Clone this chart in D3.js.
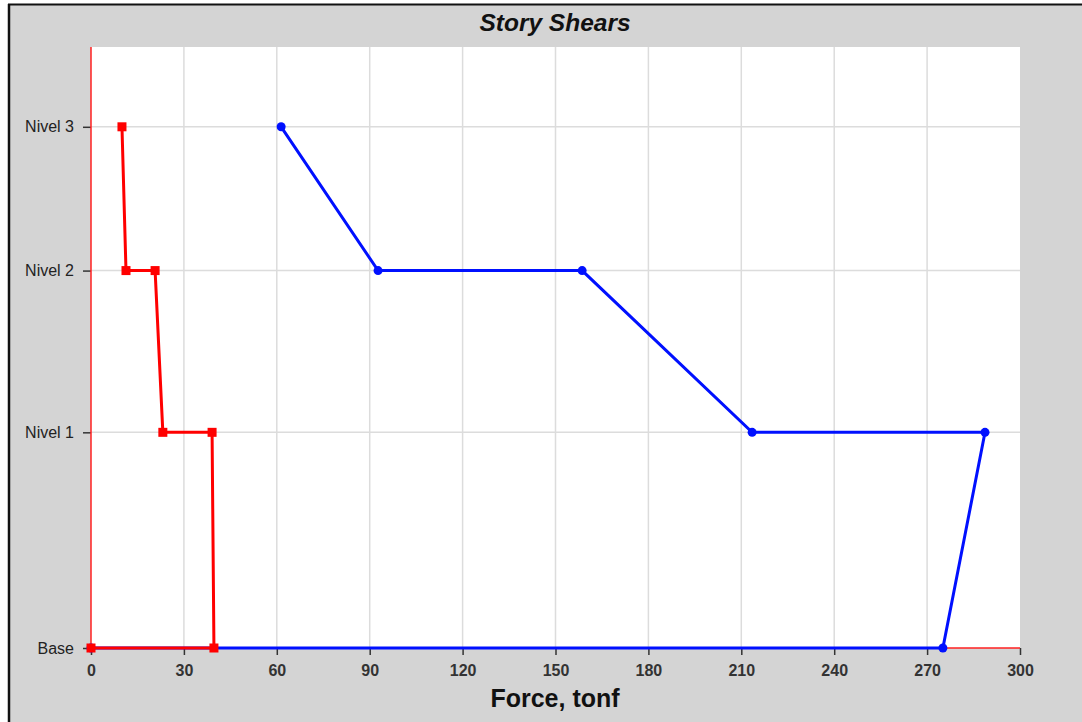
<!DOCTYPE html>
<html>
<head>
<meta charset="utf-8">
<script src="https://cdn.jsdelivr.net/npm/d3@7"></script>
<style>
  html, body { margin: 0; padding: 0; background: #ffffff; }
  svg { display: block; }
</style>
</head>
<body>
<script>
// Story levels and their elevations (m)
const stories = ["Base", "Nivel 1", "Nivel 2", "Nivel 3"];
const elevations = [0, 3.0, 5.25, 7.25];
const elevationMax = 8.36;

// Force axis
const forceTicks = [0, 30, 60, 90, 120, 150, 180, 210, 240, 270, 300];

// Story shear traces: [force, story] pairs (top/bottom of each story)
const shearX = [
  [0, "Base"], [275.1, "Base"], [288.7, "Nivel 1"], [213.5, "Nivel 1"],
  [158.6, "Nivel 2"], [92.7, "Nivel 2"], [61.4, "Nivel 3"]
];
const shearY = [
  [0, "Base"], [39.7, "Base"], [39.1, "Nivel 1"], [23.2, "Nivel 1"],
  [20.7, "Nivel 2"], [11.3, "Nivel 2"], [10.0, "Nivel 3"]
];

const W = 1082, H = 722;
const plot = { left: 91, right: 1020, top: 47, bottom: 648 };
const FONT = "Arial, 'Liberation Sans', sans-serif";

const svg = d3.select("body").append("svg")
  .attr("width", W).attr("height", H);

// Window frame
svg.append("rect").attr("x", 9).attr("y", 4).attr("width", W - 9).attr("height", H - 4)
  .attr("fill", "#d4d4d4");
svg.append("line").attr("x1", 9).attr("x2", 9).attr("y1", 4).attr("y2", H)
  .attr("stroke", "#111").attr("stroke-width", 2.5);
svg.append("line").attr("x1", 8).attr("x2", W).attr("y1", 4.5).attr("y2", 4.5)
  .attr("stroke", "#111").attr("stroke-width", 2);

// Plot area
svg.append("rect")
  .attr("x", plot.left).attr("y", plot.top)
  .attr("width", plot.right - plot.left).attr("height", plot.bottom - plot.top)
  .attr("fill", "#ffffff");

const x = d3.scaleLinear().domain([0, 300]).range([plot.left, plot.right]);
const y = d3.scaleLinear().domain([0, elevationMax]).range([plot.bottom, plot.top]);
const elev = Object.fromEntries(stories.map((s, i) => [s, elevations[i]]));

// Grid
const grid = svg.append("g").attr("stroke", "#dcdcdc").attr("stroke-width", 1.5);
grid.selectAll(".vg").data(forceTicks.slice(1, -1)).join("line")
  .attr("x1", d => x(d)).attr("x2", d => x(d))
  .attr("y1", plot.top).attr("y2", plot.bottom);
grid.selectAll(".hg").data(elevations.slice(1)).join("line")
  .attr("x1", plot.left).attr("x2", plot.right)
  .attr("y1", d => y(d)).attr("y2", d => y(d));

// X axis
const xAxis = svg.append("g")
  .attr("transform", `translate(0,${plot.bottom})`)
  .call(d3.axisBottom(x).tickValues(forceTicks).tickSize(7).tickPadding(10));
xAxis.select(".domain").remove();
xAxis.selectAll(".tick line").attr("stroke", "#333").attr("stroke-width", 1.5);
xAxis.selectAll(".tick text")
  .attr("fill", "#333").attr("font-family", FONT)
  .attr("font-size", 16).attr("font-weight", "bold");

// Y axis
const yAxis = svg.append("g")
  .attr("transform", `translate(${plot.left},0)`)
  .call(d3.axisLeft(y).tickValues(elevations).tickFormat((d, i) => stories[i])
    .tickSize(8).tickPadding(9));
yAxis.select(".domain").remove();
yAxis.selectAll(".tick line").attr("stroke", "#333").attr("stroke-width", 1.5);
yAxis.selectAll(".tick text")
  .attr("fill", "#222").attr("font-family", FONT)
  .attr("font-size", 16);

// Axis lines (red)
svg.append("line").attr("x1", x(0)).attr("x2", x(0))
  .attr("y1", plot.top).attr("y2", plot.bottom)
  .attr("stroke", "#ff2020").attr("stroke-width", 1.5);
svg.append("line").attr("x1", x(0)).attr("x2", x(300))
  .attr("y1", plot.bottom).attr("y2", plot.bottom)
  .attr("stroke", "#ff2020").attr("stroke-width", 1.5);

const line = d3.line().x(d => x(d[0])).y(d => y(elev[d[1]]));

// Blue trace
svg.append("path").datum(shearX).attr("d", line)
  .attr("fill", "none").attr("stroke", "#0010ff").attr("stroke-width", 3);
svg.selectAll(".bm").data(shearX).join("circle")
  .attr("cx", d => x(d[0])).attr("cy", d => y(elev[d[1]])).attr("r", 4.5)
  .attr("fill", "#0010ff");

// Red trace
svg.append("path").datum(shearY).attr("d", line)
  .attr("fill", "none").attr("stroke", "#ff0000").attr("stroke-width", 3);
svg.selectAll(".rm").data(shearY).join("rect")
  .attr("x", d => x(d[0]) - 4.5).attr("y", d => y(elev[d[1]]) - 4.5)
  .attr("width", 9).attr("height", 9).attr("fill", "#ff0000");

// Titles
svg.append("text").attr("x", 555).attr("y", 31).attr("text-anchor", "middle")
  .attr("font-family", FONT)
  .attr("font-size", 24.5).attr("font-weight", "bold").attr("font-style", "italic")
  .attr("fill", "#111").text("Story Shears");
svg.append("text").attr("x", 555).attr("y", 707).attr("text-anchor", "middle")
  .attr("font-family", FONT)
  .attr("font-size", 25).attr("font-weight", "bold")
  .attr("fill", "#111").text("Force, tonf");
</script>
</body>
</html>
